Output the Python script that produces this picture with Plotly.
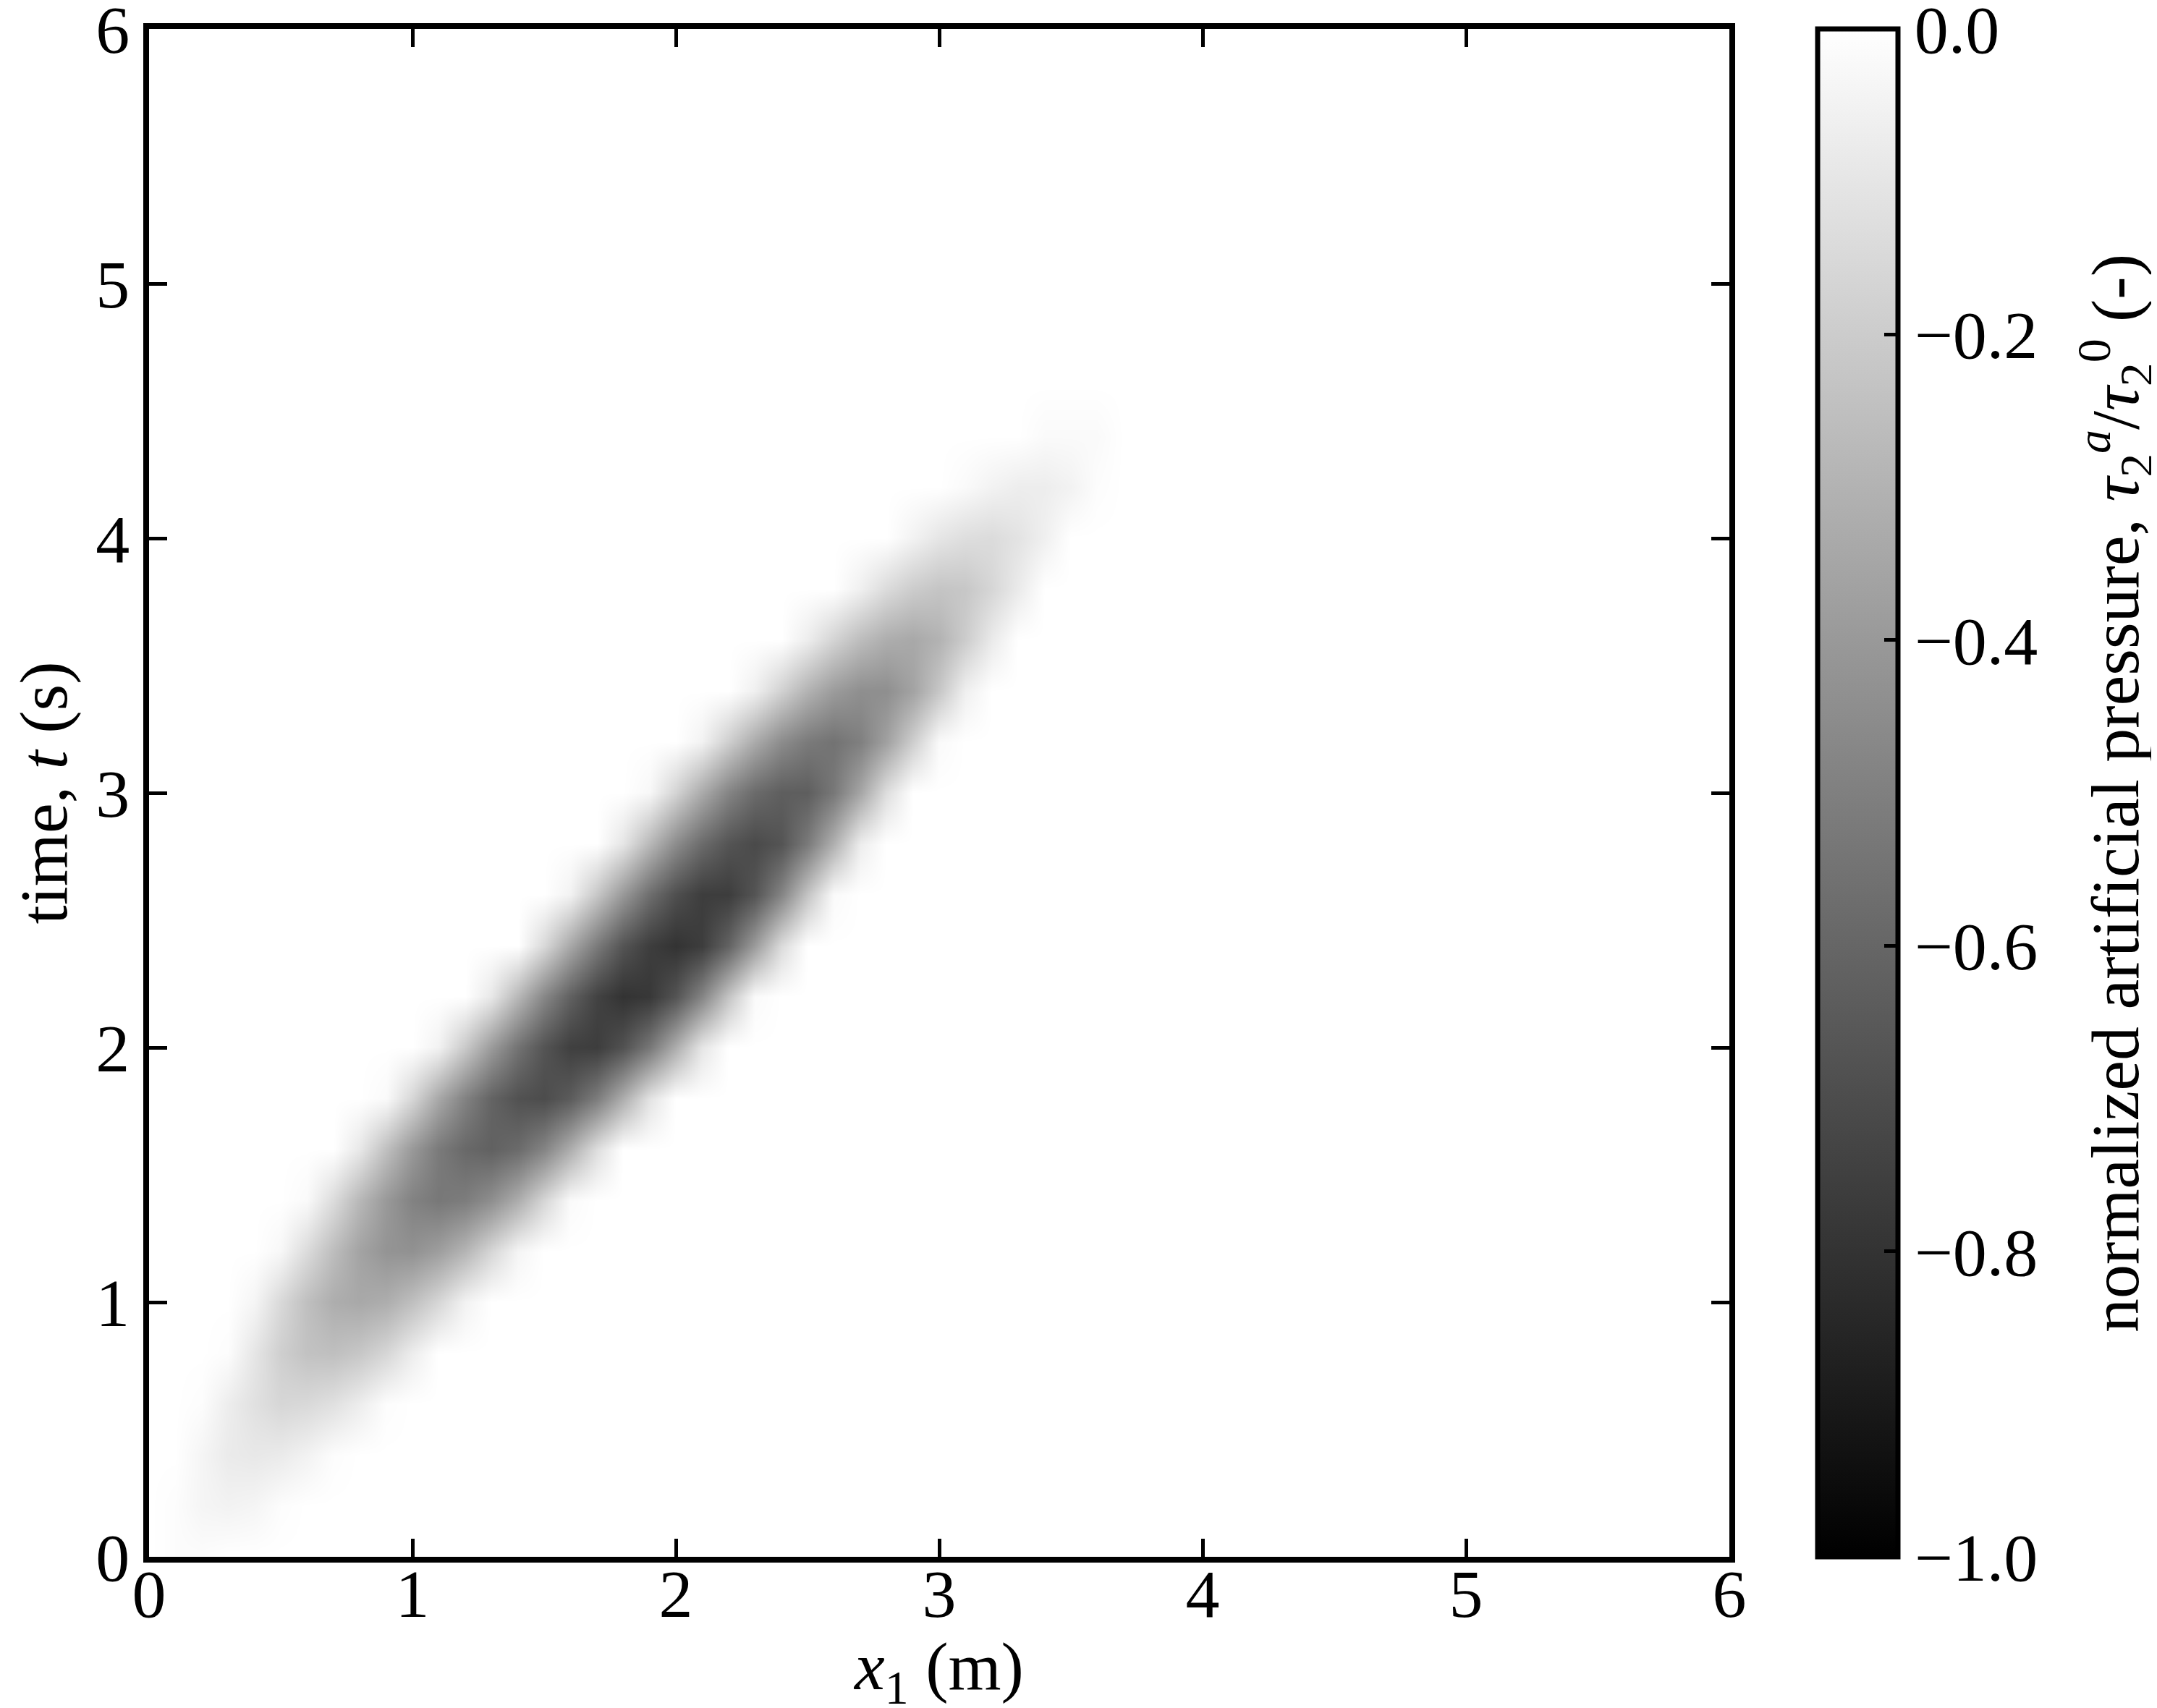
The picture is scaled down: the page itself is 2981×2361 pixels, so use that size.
import plotly.graph_objects as go

# grid: x1 every 0.1 m, t every 0.2 s
X_M = [round(0.1 * i, 1) for i in range(39)]
T_S = [round(0.2 * j, 1) for j in range(24)]

# each time row: index of first non-white x cell, then the values from there on
ROW_START = [1, 1, 2, 2, 3, 4, 5, 6, 8, 9, 11, 13, 15, 16, 18, 19, 21, 23, 25, 27, 29, 31, 34, 0]
ROW_VALUES = [
    [-0.01, -0.01],
    [-0.01, -0.04, -0.05, -0.04, -0.01],
    [-0.04, -0.08, -0.09, -0.08, -0.05, -0.01],
    [-0.01, -0.07, -0.12, -0.16, -0.15, -0.12, -0.07, -0.01],
    [-0.01, -0.10, -0.19, -0.24, -0.25, -0.22, -0.16, -0.07],
    [-0.04, -0.15, -0.25, -0.32, -0.34, -0.32, -0.25, -0.16, -0.05],
    [-0.03, -0.14, -0.26, -0.36, -0.42, -0.43, -0.38, -0.29, -0.16, -0.04],
    [-0.02, -0.14, -0.28, -0.40, -0.49, -0.53, -0.51, -0.44, -0.32, -0.16, -0.02],
    [-0.09, -0.25, -0.40, -0.52, -0.59, -0.62, -0.58, -0.48, -0.32, -0.13],
    [-0.02, -0.16, -0.34, -0.49, -0.61, -0.68, -0.70, -0.64, -0.51, -0.32, -0.11],
    [-0.05, -0.21, -0.39, -0.55, -0.67, -0.75, -0.76, -0.68, -0.53, -0.32, -0.10],
    [-0.09, -0.28, -0.47, -0.62, -0.74, -0.80, -0.78, -0.67, -0.48, -0.23, -0.02],
    [-0.15, -0.34, -0.52, -0.67, -0.76, -0.80, -0.76, -0.61, -0.39, -0.14],
    [-0.05, -0.22, -0.40, -0.57, -0.69, -0.76, -0.76, -0.67, -0.48, -0.23, -0.02],
    [-0.10, -0.28, -0.45, -0.58, -0.67, -0.71, -0.67, -0.52, -0.31, -0.07],
    [-0.03, -0.17, -0.33, -0.48, -0.58, -0.63, -0.63, -0.53, -0.35, -0.13],
    [-0.05, -0.19, -0.33, -0.45, -0.52, -0.55, -0.50, -0.37, -0.19, -0.02],
    [-0.06, -0.18, -0.30, -0.39, -0.44, -0.44, -0.36, -0.22, -0.06],
    [-0.07, -0.17, -0.26, -0.32, -0.34, -0.30, -0.20, -0.08],
    [-0.06, -0.14, -0.20, -0.23, -0.22, -0.16, -0.08],
    [-0.05, -0.10, -0.13, -0.14, -0.11, -0.06],
    [-0.02, -0.05, -0.07, -0.07, -0.05, -0.01],
    [-0.02, -0.02, -0.02],
    [],
]

AXIS_TICKS = [0, 1, 2, 3, 4, 5, 6]
CBAR_TICKS = [0.0, -0.2, -0.4, -0.6, -0.8, -1.0]
CBAR_LABELS = ["0.0", "\u22120.2", "\u22120.4", "\u22120.6", "\u22120.8", "\u22121.0"]
CBAR_TITLE = ("normalized artificial pressure, <i>\u03c4</i><sub>2</sub><sup><i>a</i></sup>"
              "/<i>\u03c4</i><sub>2</sub><sup>0</sup> (-)")

FONT = "Liberation Serif, Times New Roman, serif"
FS = 94

# pad every row with white (0) cells
z = []
for start, vals in zip(ROW_START, ROW_VALUES):
    row = [0.0] * len(X_M)
    for k, v in enumerate(vals):
        row[start + k] = v
    z.append(row)

fig = go.Figure(go.Heatmap(
    x=X_M, y=T_S, z=z,
    zmin=-1, zmax=0, zsmooth="best",
    colorscale=[[0, "#000000"], [1, "#ffffff"]],
    colorbar=dict(
        x=1.0558, xanchor="left", xpad=0,
        y=0.5, yanchor="middle", ypad=0,
        len=1, lenmode="fraction",
        thickness=111, thicknessmode="pixels",
        outlinewidth=7, outlinecolor="black",
        ticks="inside", ticklen=22, tickwidth=4.5, tickcolor="black",
        tickvals=CBAR_TICKS, ticktext=CBAR_LABELS,
        ticklabeloverflow="allow",
        tickfont=dict(family=FONT, size=FS, color="black"),
    ),
))

# colorbar label placed by hand so it sits where the reference has it
fig.add_annotation(
    text=CBAR_TITLE, xref="paper", yref="paper", x=1.2440, y=0.5,
    xanchor="center", yanchor="middle", textangle=-90, showarrow=False,
    font=dict(family=FONT, size=FS, color="black"),
)

axis_style = dict(
    range=[0, 6], tickvals=AXIS_TICKS,
    ticks="inside", ticklen=25, tickwidth=4.5, tickcolor="black",
    showline=True, linewidth=8, linecolor="black", mirror="allticks",
    showgrid=False, zeroline=False, ticklabeloverflow="allow",
    tickfont=dict(family=FONT, size=FS, color="black"),
)

fig.update_xaxes(
    **axis_style, ticklabelstandoff=-38,
    title=dict(text="<i>x</i><sub>1</sub> (m)", font=dict(family=FONT, size=FS, color="black"), standoff=0),
)
fig.update_yaxes(
    **axis_style,
    title=dict(text="time, <i>t</i> (s)", font=dict(family=FONT, size=FS, color="black"), standoff=22),
)

fig.update_layout(
    width=2981, height=2361,
    margin=dict(l=198, r=599, t=32, b=217, autoexpand=False),
    paper_bgcolor="white", plot_bgcolor="white",
    font=dict(family=FONT, color="black"),
)

fig.write_html("out.html")
